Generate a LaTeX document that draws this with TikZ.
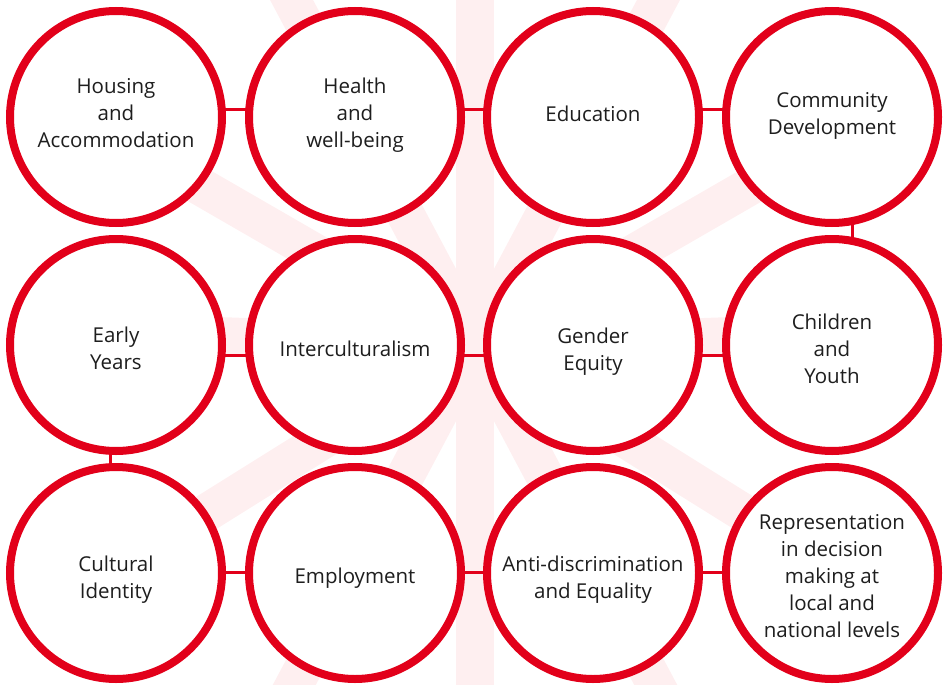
\documentclass[tikz,border=0pt]{standalone}
\usepackage{fontspec}
\setmainfont{Open Sans}
\usetikzlibrary{backgrounds}
\definecolor{brandred}{RGB}{226,0,26}
\definecolor{wm}{RGB}{254,239,240}
\definecolor{ink}{RGB}{30,30,30}
\begin{document}
\begin{tikzpicture}[x=1pt,y=-1pt,
  bubble/.style={circle, draw=brandred, line width=8pt, fill=white, minimum size=212pt, inner sep=0pt},
  txt/.style={align=center, text=ink, font=\fontsize{20.5}{27}\selectfont, inner sep=0pt},
  link/.style={draw=brandred, line width=3pt},
  ray/.style={draw=wm, line width=38pt, line cap=round}]
\useasboundingbox (0,0) rectangle (950,685);
% circles
\node[bubble] (c1)  at (116,117) {};
\node[bubble] (c2)  at (355,117) {};
\node[bubble] (c3)  at (593,117) {};
\node[bubble] (c4)  at (832,117) {};
\node[bubble] (c5)  at (116,345) {};
\node[bubble] (c6)  at (355,345) {};
\node[bubble] (c7)  at (593,345) {};
\node[bubble] (c8)  at (832,345) {};
\node[bubble] (c9)  at (116,573) {};
\node[bubble] (c10) at (355,573) {};
\node[bubble] (c11) at (593,573) {};
\node[bubble] (c12) at (832,573) {};
% watermark and connectors behind
\begin{scope}[on background layer]
  \clip (0,0) rectangle (950,685);
  \coordinate (hub) at (475,345);
  \fill[wm] (hub) circle[radius=70pt];
  \foreach \a in {90,62,118,30,150,178,2,-32,-148,-62,-118,-90}
    \draw[ray] (hub) -- ++(\a:430pt);
  % row connectors
  \draw[link] ([yshift=8pt]c1.center) -- ([yshift=8pt]c2.center) -- ([yshift=8pt]c3.center) -- ([yshift=8pt]c4.center);
  \draw[link] ([yshift=-10pt]c5.center) -- ([yshift=-10pt]c6.center) -- ([yshift=-10pt]c7.center) -- ([yshift=-10pt]c8.center);
  \draw[link] ([yshift=1pt]c9.center) -- ([yshift=1pt]c10.center) -- ([yshift=1pt]c11.center) -- ([yshift=1pt]c12.center);
  % vertical connectors
  \draw[link] ([xshift=20pt]c4.center) -- ([xshift=20pt]c8.center);
  \draw[link] ([xshift=-6pt]c5.center) -- ([xshift=-6pt]c9.center);
\end{scope}
% texts
\node[txt] (t1)  at (116,113.5) {Housing\\and\\Accommodation};
\node[txt] (t2)  at (355,115.5) {Health\\and\\well-being};
\node[txt] (t3)  at (593,113.5) {Education};
\node[txt] (t4)  at (832,115.5) {Community\\Development};
\node[txt] (t5)  at (116,348.5) {Early\\Years};
\node[txt] (t6)  at (355,348.5) {Interculturalism};
\node[txt] (t7)  at (593,351.5) {Gender\\Equity};
\node[txt] (t8)  at (832,348.5) {Children\\and\\Youth};
\node[txt] (t9)  at (116,580) {Cultural\\Identity};
\node[txt] (t10) at (355,578) {Employment};
\node[txt] (t11) at (593,580) {Anti-discrimination\\and Equality};
\node[txt] (t12) at (832,576) {Representation\\in decision\\making at\\local and\\national levels};
\end{tikzpicture}
\end{document}
